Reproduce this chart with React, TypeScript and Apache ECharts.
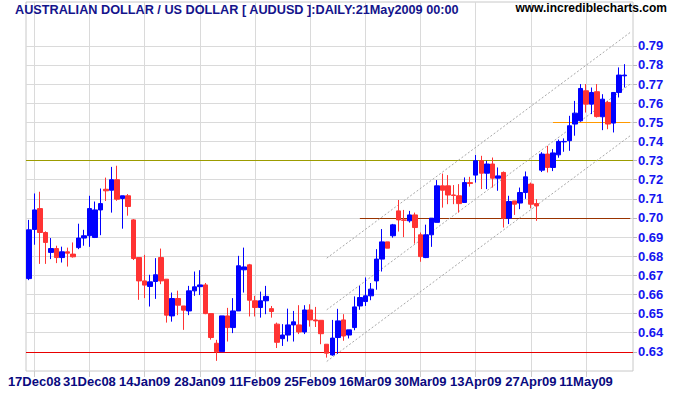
import React, { useEffect, useRef } from 'react';
import * as echarts from 'echarts';

// ---- data (AUDUSD daily) ----
const opens = [
  0.6683, 0.6940, 0.7049, 0.6924, 0.6820, 0.6840, 0.6793, 0.6823, 0.6811, 0.6845,
  0.6895, 0.6907, 0.6898, 0.7042, 0.7150, 0.7145, 0.7200, 0.7102, 0.7116, 0.6990,
  0.6793, 0.6671, 0.6642, 0.6668, 0.6793, 0.6680, 0.6488, 0.6579, 0.6540, 0.6514,
  0.6619, 0.6641, 0.6650, 0.6500, 0.6345, 0.6301, 0.6488, 0.6427, 0.6514, 0.6729,
  0.6755, 0.6567, 0.6532, 0.6567, 0.6526, 0.6445, 0.6369, 0.6388, 0.6441, 0.6441,
  0.6404, 0.6519, 0.6467, 0.6465, 0.6340, 0.6284, 0.6375, 0.6467, 0.6388, 0.6427,
  0.6540, 0.6563, 0.6593, 0.6671, 0.6785, 0.6875, 0.6907, 0.7037, 0.6990, 0.6985,
  0.7016, 0.6912, 0.6793, 0.6912, 0.6977, 0.7168, 0.7168, 0.7120, 0.7116, 0.7081,
  0.7185, 0.7224, 0.7299, 0.7234, 0.7282, 0.7208, 0.7238, 0.6999, 0.7089, 0.7078,
  0.7133, 0.7177, 0.7075, 0.7250, 0.7334, 0.7264, 0.7330, 0.7398, 0.7404, 0.7491,
  0.7508, 0.7665, 0.7595, 0.7660, 0.7529, 0.7604, 0.7496, 0.7656, 0.7743,
];
const closes = [
  0.6938, 0.7042, 0.6924, 0.6872, 0.6840, 0.6793, 0.6823, 0.6816, 0.6797, 0.6895,
  0.6907, 0.7049, 0.7042, 0.7075, 0.7142, 0.7200, 0.7098, 0.7116, 0.7060, 0.6788,
  0.6671, 0.6649, 0.6666, 0.6703, 0.6671, 0.6492, 0.6579, 0.6544, 0.6518, 0.6619,
  0.6640, 0.6650, 0.6500, 0.6375, 0.6301, 0.6488, 0.6427, 0.6514, 0.6750, 0.6744,
  0.6570, 0.6532, 0.6567, 0.6590, 0.6511, 0.6350, 0.6388, 0.6441, 0.6457, 0.6404,
  0.6519, 0.6467, 0.6462, 0.6395, 0.6293, 0.6372, 0.6462, 0.6383, 0.6415, 0.6535,
  0.6584, 0.6593, 0.6628, 0.6785, 0.6875, 0.6842, 0.6964, 0.6990, 0.6988, 0.7016,
  0.6950, 0.6798, 0.6912, 0.6999, 0.7168, 0.7145, 0.7120, 0.7118, 0.7075, 0.7185,
  0.7180, 0.7299, 0.7234, 0.7282, 0.7208, 0.7220, 0.6999, 0.7086, 0.7072, 0.7133,
  0.7215, 0.7072, 0.7063, 0.7334, 0.7264, 0.7340, 0.7400, 0.7400, 0.7482, 0.7548,
  0.7677, 0.7595, 0.7656, 0.7530, 0.7621, 0.7491, 0.7656, 0.7747, 0.7747,
];
const lows = [
  0.6675, 0.6860, 0.6760, 0.6760, 0.6785, 0.6764, 0.6767, 0.6746, 0.6793, 0.6837,
  0.6855, 0.6849, 0.6895, 0.6910, 0.7089, 0.7028, 0.7090, 0.6944, 0.7012, 0.6780,
  0.6572, 0.6581, 0.6537, 0.6577, 0.6654, 0.6453, 0.6458, 0.6492, 0.6415, 0.6492,
  0.6593, 0.6597, 0.6497, 0.6364, 0.6253, 0.6301, 0.6354, 0.6398, 0.6514, 0.6610,
  0.6485, 0.6485, 0.6479, 0.6497, 0.6479, 0.6320, 0.6331, 0.6354, 0.6354, 0.6393,
  0.6393, 0.6432, 0.6430, 0.6340, 0.6270, 0.6280, 0.6290, 0.6358, 0.6370, 0.6413,
  0.6520, 0.6540, 0.6570, 0.6625, 0.6720, 0.6842, 0.6897, 0.6929, 0.6900, 0.6976,
  0.6866, 0.6771, 0.6790, 0.6849, 0.6977, 0.7054, 0.7072, 0.7072, 0.7028, 0.7080,
  0.7164, 0.7185, 0.7151, 0.7151, 0.7159, 0.7142, 0.6950, 0.6968, 0.7016, 0.7046,
  0.7100, 0.7050, 0.6985, 0.7240, 0.7238, 0.7245, 0.7315, 0.7346, 0.7351, 0.7430,
  0.7503, 0.7551, 0.7543, 0.7525, 0.7459, 0.7464, 0.7447, 0.7630, 0.7682,
];
const highs = [
  0.6990, 0.7128, 0.7137, 0.6930, 0.6895, 0.6855, 0.6850, 0.6845, 0.6872, 0.6970,
  0.6938, 0.7116, 0.7086, 0.7154, 0.7211, 0.7267, 0.7273, 0.7116, 0.7125, 0.6994,
  0.6793, 0.6807, 0.6703, 0.6790, 0.6840, 0.6680, 0.6610, 0.6620, 0.6540, 0.6645,
  0.6720, 0.6727, 0.6660, 0.6500, 0.6363, 0.6488, 0.6530, 0.6581, 0.6802, 0.6845,
  0.6760, 0.6593, 0.6615, 0.6645, 0.6540, 0.6453, 0.6445, 0.6526, 0.6514, 0.6544,
  0.6544, 0.6549, 0.6535, 0.6465, 0.6340, 0.6467, 0.6525, 0.6497, 0.6415, 0.6590,
  0.6645, 0.6689, 0.6660, 0.6837, 0.6942, 0.6875, 0.6969, 0.7094, 0.7042, 0.7037,
  0.7028, 0.6924, 0.6965, 0.6999, 0.7198, 0.7232, 0.7224, 0.7172, 0.7177, 0.7212,
  0.7215, 0.7329, 0.7325, 0.7299, 0.7316, 0.7264, 0.7243, 0.7116, 0.7089, 0.7159,
  0.7243, 0.7185, 0.7098, 0.7344, 0.7377, 0.7360, 0.7410, 0.7416, 0.7534, 0.7612,
  0.7700, 0.7700, 0.7682, 0.7700, 0.7647, 0.7612, 0.7656, 0.7787, 0.7804,
];

const firstDay = '2008-12-16';
const missingDays = ['2009-03-02', '2009-03-03', '2009-03-04'];
const tickLabels = [
  '17Dec08', '31Dec08', '14Jan09', '28Jan09', '11Feb09', '25Feb09',
  '16Mar09', '30Mar09', '13Apr09', '27Apr09', '11May09',
];
const priceTicks = [
  0.63, 0.64, 0.65, 0.66, 0.67, 0.68, 0.69, 0.70, 0.71, 0.72, 0.73, 0.74, 0.75,
  0.76, 0.77, 0.78, 0.79,
];
// horizontal support / resistance lines
const levelPrices = [0.73, 0.63, 0.70, 0.75];
const levelStartIdx = [0, 0, 60, 95];
// trend channel
const channelStartIdx = 54;
const channelStartPrices = [0.679, 0.652, 0.625];
const channelEndPrices = [0.797, 0.770, 0.743];

const TITLE = 'AUSTRALIAN DOLLAR / US DOLLAR [ AUDUSD ]:DAILY:21May2009 00:00';
const SITE = 'www.incrediblecharts.com';
const FONT = "'Liberation Sans Narrow', 'Arial Narrow', 'Liberation Sans', Arial, sans-serif";
const MONTHS = ['Jan', 'Feb', 'Mar', 'Apr', 'May', 'Jun', 'Jul', 'Aug', 'Sep', 'Oct', 'Nov', 'Dec'];

function buildCategories(count: number): string[] {
  const out: string[] = [];
  const d = new Date(firstDay + 'T00:00:00Z');
  while (out.length < count) {
    const dow = d.getUTCDay();
    const iso = d.toISOString().slice(0, 10);
    if (dow !== 0 && dow !== 6 && !missingDays.includes(iso)) {
      const yy = String(d.getUTCFullYear()).slice(2);
      out.push(`${d.getUTCDate()}${MONTHS[d.getUTCMonth()]}${yy}`);
    }
    d.setUTCDate(d.getUTCDate() + 1);
  }
  return out;
}

export default function App() {
  const ref = useRef<HTMLDivElement>(null);

  useEffect(() => {
    if (!ref.current) return;
    const chart = echarts.init(ref.current, undefined, { renderer: 'svg' });

    const cats = buildCategories(opens.length);
    const xCats = [...cats, ' '];
    const lastIdx = xCats.length - 1;
    const candleData = opens.map((o, i) => [o, closes[i], lows[i], highs[i]]);
    const isTick = (_i: number, v: string) => tickLabels.includes(v);

    const levelColors = ['#9c9c00', '#e80000', '#993300', '#ff9900'];
    const levelLines = levelPrices.map((p, k) => {
      const style = { color: levelColors[k], width: 1, type: 'solid' };
      if (levelStartIdx[k] === 0) return { yAxis: p, lineStyle: style };
      return [
        { coord: [levelStartIdx[k], p], lineStyle: style },
        { coord: [lastIdx, p] },
      ];
    });
    const channelLines = channelStartPrices.map((p, k) => [
      { coord: [channelStartIdx, p] },
      { coord: [lastIdx, channelEndPrices[k]] },
    ]);

    const option: any = {
      animation: false,
      backgroundColor: '#ffffff',
      title: [
        {
          text: TITLE,
          left: 15,
          top: 3,
          padding: 0,
          textStyle: { color: '#14148c', fontSize: 12.7, fontWeight: 'bold', fontFamily: FONT },
        },
        {
          text: SITE,
          right: 8,
          top: 2,
          padding: 0,
          textStyle: { color: '#000000', fontSize: 12, fontWeight: 'bold', fontFamily: FONT },
        },
      ],
      grid: {
        left: 26,
        right: 42,
        top: 2,
        bottom: 24,
        show: true,
        borderColor: '#c8c8c8',
        borderWidth: 1,
        backgroundColor: '#ffffff',
      },
      xAxis: {
        type: 'category',
        data: xCats,
        boundaryGap: true,
        axisLine: { show: false },
        axisTick: {
          show: true,
          alignWithLabel: true,
          interval: isTick,
          length: 6,
          lineStyle: { color: '#cccccc' },
        },
        axisLabel: {
          interval: isTick,
          color: '#0a0a80',
          fontWeight: 'bold',
          fontFamily: FONT,
          fontSize: 13,
          margin: 4,
        },
        splitLine: { show: false },
      },
      yAxis: {
        type: 'value',
        position: 'right',
        min: 0.62,
        max: 0.8129,
        splitLine: { show: false },
        axisLine: { show: false },
        axisTick: {
          show: true,
          customValues: priceTicks,
          length: 4,
          lineStyle: { color: '#bbbbbb' },
        },
        axisLabel: {
          customValues: priceTicks,
          formatter: (v: number) => v.toFixed(2),
          color: '#1414f0',
          fontWeight: 'bold',
          fontFamily: FONT,
          fontSize: 13,
          margin: 5,
        },
      },
      series: [
        {
          name: 'grid',
          type: 'line',
          data: [],
          silent: true,
          z: 1,
          markLine: {
            silent: true,
            symbol: 'none',
            z: 1,
            label: { show: false },
            lineStyle: { color: '#dadada', width: 1, type: 'solid' },
            data: [
              ...priceTicks.map((v) => ({ yAxis: v })),
              ...tickLabels.map((t) => ({ xAxis: t })),
            ],
          },
        },
        {
          name: 'levels',
          type: 'line',
          data: [],
          silent: true,
          z: 2,
          markLine: {
            silent: true,
            symbol: 'none',
            z: 2,
            label: { show: false },
            data: levelLines,
          },
        },
        {
          name: 'channel',
          type: 'line',
          data: [],
          silent: true,
          z: 2,
          markLine: {
            silent: true,
            symbol: 'none',
            z: 2,
            label: { show: false },
            lineStyle: { color: '#a8a8a8', width: 1, type: [2, 2] },
            data: channelLines,
          },
        },
        {
          name: 'AUDUSD',
          type: 'candlestick',
          data: candleData,
          barWidth: 5,
          z: 3,
          itemStyle: {
            color: '#0000ff',
            color0: '#ff3333',
            borderColor: '#0000ff',
            borderColor0: '#ff3333',
            borderWidth: 1,
          },
        },
      ],
    };

    chart.setOption(option);
    return () => chart.dispose();
  }, []);

  return (
    <div
      ref={ref}
      style={{ position: 'fixed', left: 0, top: 0, width: 675, height: 395, background: '#fff' }}
    />
  );
}
